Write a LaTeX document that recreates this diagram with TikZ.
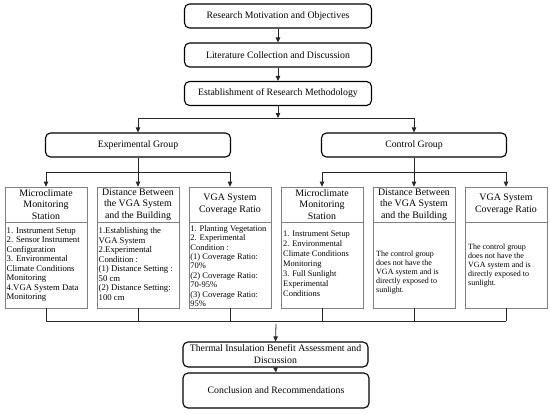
\documentclass[tikz,border=0pt]{standalone}
\usepackage{fontspec}
\setmainfont{Liberation Serif}
\usetikzlibrary{arrows.meta}
\begin{document}
\begin{tikzpicture}[x=1pt,y=-1pt,
  mainbox/.style={draw=black, line width=1.1pt, rounded corners=5pt, minimum height=24pt, inner sep=0pt, align=center, font=\fontsize{9.8}{12}\selectfont},
  hbox/.style={draw=black!50, line width=0.7pt, minimum width=82pt, minimum height=35pt, inner sep=0pt, align=center, font=\fontsize{9.9}{11.5}\selectfont},
  bbox/.style={draw=black!50, line width=0.7pt, minimum width=82pt, minimum height=86pt, inner sep=0pt},
  btext/.style={anchor=north west, inner sep=0pt, align=left, font=\fontsize{8.7}{9.5}\selectfont},
  ctext/.style={anchor=west, inner sep=0pt, align=left, font=\fontsize{8}{9}\selectfont},
  conn/.style={draw=black!85, line width=0.8pt},
  arr/.style={conn, -{Triangle[length=5pt,width=4.5pt]}},
]
\useasboundingbox (0,0) rectangle (550,415);

% main column
\node[mainbox, minimum width=187pt] (m1) at (278,16) {Research Motivation and Objectives};
\node[mainbox, minimum width=187pt] (m2) at (278,55) {Literature Collection and Discussion};
\node[mainbox, minimum width=187pt] (m3) at (278,93.5) {Establishment of Research Methodology};
\node[mainbox, minimum width=185pt] (eg) at (138,145) {Experimental Group};
\node[mainbox, minimum width=185pt] (cg) at (414,145) {Control Group};

% sub boxes: headers
\node[hbox] (e1h) at (46,204.5) {Microclimate\\Monitoring\\Station};
\node[hbox] (e2h) at (138,204.5) {Distance Between\\the VGA System\\and the Building};
\node[hbox] (e3h) at (230,204.5) {VGA System\\Coverage Ratio};
\node[hbox] (c1h) at (322,204.5) {Microclimate\\Monitoring\\Station};
\node[hbox] (c2h) at (414,204.5) {Distance Between\\the VGA System\\and the Building};
\node[hbox] (c3h) at (506,204.5) {VGA System\\Coverage Ratio};

% sub boxes: bodies
\node[bbox] (e1b) at (46,265) {};
\node[bbox] (e2b) at (138,265) {};
\node[bbox] (e3b) at (230,265) {};
\node[bbox] (c1b) at (322,265) {};
\node[bbox] (c2b) at (414,265) {};
\node[bbox] (c3b) at (506,265) {};

\node[btext] (e1t) at (6.5,227.3) {1. Instrument Setup\\2. Sensor Instrument\\Configuration\\3. Environmental\\Climate Conditions\\Monitoring\\4.VGA System Data\\Monitoring};
\node[btext] (e2t) at (98.5,227.3) {1.Establishing the\\VGA System\\2.Experimental\\Condition :\\(1) Distance Setting :\\50 cm\\(2) Distance Setting:\\100 cm};
\node[btext, font=\fontsize{8.5}{9.4}\selectfont] (e3t) at (190.2,225.3) {1. Planting Vegetation\\2. Experimental\\Condition :\\(1) Coverage Ratio:\\70\%\\(2) Coverage Ratio:\\70-95\%\\(3) Coverage Ratio:\\95\%};
\node[btext, font=\fontsize{8.4}{10}\selectfont] (c1t) at (283,230.5) {1. Instrument Setup\\2. Environmental\\Climate Conditions\\Monitoring\\3. Full Sunlight\\Experimental\\Conditions};
\node[ctext] (c2t) at (376,273) {The control group\\does not have the\\VGA system and is\\directly exposed to\\sunlight.};
\node[ctext] (c3t) at (468,266) {The control group\\does not have the\\VGA system and is\\directly exposed to\\sunlight.};

% bottom column
\node[mainbox, minimum width=185pt, minimum height=25pt] (th) at (275.5,354.5) {Thermal Insulation Benefit Assessment and\\Discussion};
\node[mainbox, minimum width=186pt, minimum height=35pt] (cr) at (276,390.5) {Conclusion and Recommendations};

% connectors
\draw[arr] (m1.south) -- (m2.north);
\draw[arr] (m2.south) -- (m3.north);
\coordinate (j0) at (278,118);
\coordinate (jl) at (138,118);
\coordinate (jr) at (414,118);
\draw[arr] (m3.south) -- (j0);
\draw[conn] (jl) -- (jr);
\draw[arr] (jl) -- (eg.north);
\draw[arr] (jr) -- (cg.north);

\coordinate (ej) at (138,172);
\coordinate (cj) at (414,172);
\draw[conn] (eg.south) -- (ej);
\draw[conn] (e1h.north |- ej) -- (e3h.north |- ej);
\draw[arr] (e1h.north |- ej) -- (e1h.north);
\draw[arr] (ej) -- (e2h.north);
\draw[arr] (e3h.north |- ej) -- (e3h.north);
\draw[conn] (cg.south) -- (cj);
\draw[conn] (c1h.north |- cj) -- (c3h.north |- cj);
\draw[arr] (c1h.north |- cj) -- (c1h.north);
\draw[arr] (cj) -- (c2h.north);
\draw[arr] (c3h.north |- cj) -- (c3h.north);

\coordinate (bj) at (276,321);
\foreach \n in {e1b,e2b,e3b,c1b,c2b,c3b} \draw[conn] (\n.south) -- (\n.south |- bj);
\draw[conn] (e1b.south |- bj) -- (c3b.south |- bj);
\coordinate (bs) at (276,324);
\draw[arr] (bs) -- (th.north);
\draw[arr] (th.south) -- (cr.north);
\end{tikzpicture}
\end{document}
